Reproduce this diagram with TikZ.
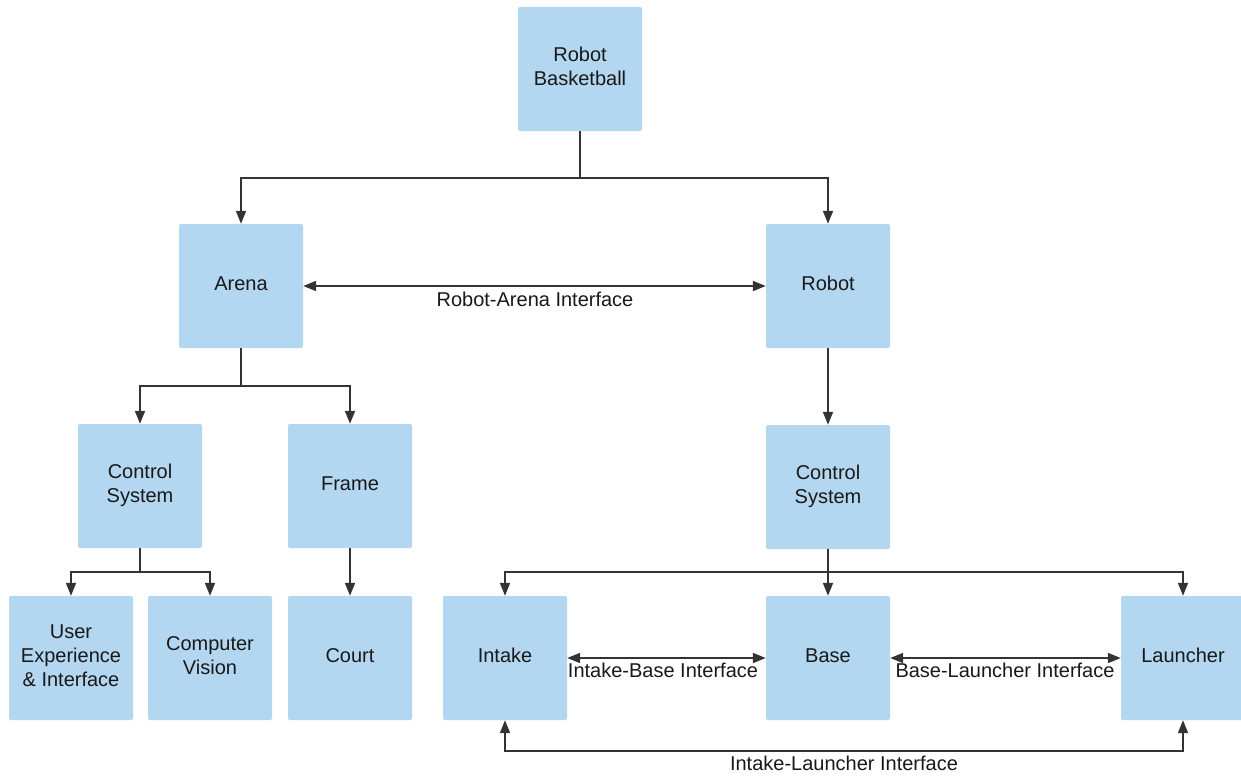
\documentclass[tikz,border=0pt]{standalone}
\usepackage{fontspec}
\setmainfont{Liberation Sans}
\usetikzlibrary{arrows.meta}
\definecolor{boxblue}{HTML}{B3D7F0}
\definecolor{linegray}{HTML}{333333}
\begin{document}
\begin{tikzpicture}[x=1pt,y=-1pt,
  blk/.style={fill=boxblue,draw=none,rounded corners=2pt,minimum width=124pt,minimum height=124pt,inner sep=0pt,text depth=5pt,align=center,font=\fontsize{20}{24}\selectfont,text=black!90},
  lbl/.style={font=\fontsize{20}{24}\selectfont,inner sep=0pt,text=black!90},
  conn/.style={draw=linegray,line width=1.8pt},
  arr/.style={conn,-{Triangle[length=13pt,width=10pt]}},
  darr/.style={conn,{Triangle[length=13pt,width=10pt]}-{Triangle[length=13pt,width=10pt]}}]
\useasboundingbox[fill=white] (0,0) rectangle (1241,776);
\node[blk] (rb) at (580,69) {Robot\\Basketball};
\node[blk] (arena) at (241,286) {Arena};
\node[blk] (robot) at (828,286) {Robot};
\node[blk] (csl) at (140,486) {Control\\System};
\node[blk] (frame) at (350,486) {Frame};
\node[blk] (csr) at (828,487) {Control\\System};
\node[blk] (ux) at (71,658) {User\\Experience\\\& Interface};
\node[blk] (cv) at (210,658) {Computer\\Vision};
\node[blk] (court) at (350,658) {Court};
\node[blk] (intake) at (505,658) {Intake};
\node[blk] (base) at (828,658) {Base};
\node[blk] (launcher) at (1183,658) {Launcher};
\coordinate (j1) at (580,178);
\coordinate (j2) at (241,386);
\coordinate (j3) at (140,572);
\coordinate (j4) at (828,572);
\coordinate (j5) at (505,751);
% top split
\draw[conn] (rb.south) -- (j1);
\draw[arr] (j1) -| (arena.north);
\draw[arr] (j1) -| (robot.north);
% arena-robot
\draw[darr] (arena.east) -- (robot.west);
\node[lbl] (lra) at (535,299) {Robot-Arena Interface};
% arena split
\draw[conn] (arena.south) -- (j2);
\draw[arr] (j2) -| (csl.north);
\draw[arr] (j2) -| (frame.north);
% robot to control
\draw[arr] (robot.south) -- (csr.north);
% left control split
\draw[conn] (csl.south) -- (j3);
\draw[arr] (j3) -| (ux.north);
\draw[arr] (j3) -| (cv.north);
% frame to court
\draw[arr] (frame.south) -- (court.north);
% right control split
\draw[arr] (csr.south) -- (base.north);
\draw[arr] (j4) -| (intake.north);
\draw[arr] (j4) -| (launcher.north);
% interfaces
\draw[darr] (intake.east) -- (base.west);
\node[lbl] (lib) at (663,670) {Intake-Base Interface};
\draw[darr] (base.east) -- (launcher.west);
\node[lbl] (lbl2) at (1005,670) {Base-Launcher Interface};
\draw[darr] (intake.south) -- (j5) -| (launcher.south);
\node[lbl] (lil) at (844,763) {Intake-Launcher Interface};
\end{tikzpicture}
\end{document}
